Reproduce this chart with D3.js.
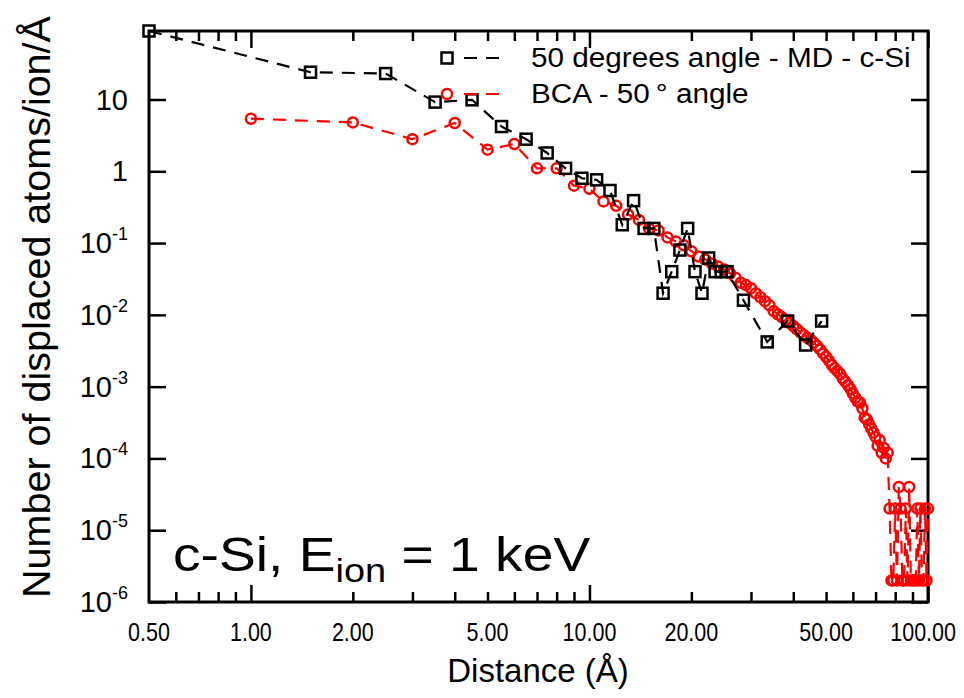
<!DOCTYPE html>
<html>
<head>
<meta charset="utf-8">
<script src="https://cdn.jsdelivr.net/npm/d3@7"></script>
<style>
body { margin: 0; background: #fff; }
text { font-family: "Liberation Sans", Arial, sans-serif; fill: #000; }
</style>
</head>
<body>
<svg id="chart" width="964" height="698"></svg>
<script>
// MD run, 1 A bins (centres at n + 0.5)
const mdDist = [0.5, 1.5, 2.5, 3.5, 4.5, 5.5, 6.5, 7.5, 8.5, 9.5, 10.5, 11.5, 12.5, 13.5, 14.5, 15.5,
  16.5, 17.5, 18.5, 19.5, 20.5, 21.5, 22.5, 23.5, 24.5, 25.5, 28.5, 33.5, 38.5, 43.5, 48.5];
const mdVals = [90, 24, 23, 9.2, 9.9, 4.2, 2.8, 1.8, 1.1, 0.8, 0.76, 0.54, 0.18, 0.39, 0.16, 0.16,
  0.02, 0.04, 0.08, 0.16, 0.04, 0.02, 0.062, 0.04, 0.04, 0.04, 0.016, 0.0042, 0.0082, 0.0038, 0.0082];

// BCA run, distances 1..100 A
const bcaDist = d3.range(1, 101);
const bcaVals = [5.4, 4.8, 2.8, 4.7, 2.0, 2.4, 1.1, 1.1, 0.63, 0.57,
  0.38, 0.33, 0.25, 0.21, 0.16, 0.15, 0.12, 0.105, 0.093, 0.077,
  0.065, 0.059, 0.052, 0.047, 0.043, 0.038, 0.033, 0.028, 0.026, 0.0235,
  0.020, 0.0176, 0.0155, 0.0136, 0.0113, 0.0102, 0.0093, 0.0085, 0.0077, 0.0070,
  0.0063, 0.0057, 0.0052, 0.0048, 0.0045, 0.0041, 0.0037, 0.0033, 0.0029, 0.0026,
  0.0023, 0.0020, 0.0018, 0.00165, 0.0015, 0.0013, 0.00117, 0.00105, 0.00093, 0.0008,
  0.0007, 0.00062, 0.0006, 0.0005, 0.00037, 0.00035, 0.0003, 0.00026, 0.00023, 0.0002,
  0.00015, 0.00018, 0.00012, 0.00014, 0.0001, 0.00012, 2e-5, 2e-6, 2e-6, 2e-5,
  2e-6, 4e-5, 2e-5, 2e-6, 2e-6, 2e-5, 2e-6, 4e-5, 2e-6, 2e-6,
  2e-6, 2e-6, 2e-5, 2e-6, 2e-5, 2e-6, 2e-6, 2e-5, 2e-6, 2e-5];

const xTickVals = [0.5, 1, 2, 5, 10, 20, 50, 100];
const xTickLabels = ["0.50", "1.00", "2.00", "5.00", "10.00", "20.00", "50.00", "100.00"];
const xMajor = [1, 10, 100];
const xMinor = [0.6, 0.7, 0.8, 0.9, 2, 3, 4, 5, 6, 7, 8, 9, 20, 30, 40, 50, 60, 70, 80, 90];
const yTickExp = [1, 0, -1, -2, -3, -4, -5, -6];

const seriesNames = ["50 degrees angle - MD - c-Si", "BCA - 50\u2009\u00b0 angle"];

const svg = d3.select("#chart");
const mLeft = 149, mRight = 928, mTop = 31, mBottom = 602;

const x = d3.scaleLog().domain([0.5, 100]).range([mLeft, mRight]);
const y = d3.scaleLog().domain([1e-6, 90]).range([mBottom, mTop]);

// stretch a text horizontally by factor k (gnuplot fonts come out wider)
function stretch(sel, k) {
  sel.each(function () {
    const w = this.getComputedTextLength();
    d3.select(this).attr("textLength", w * k).attr("lengthAdjust", "spacingAndGlyphs");
  });
}

// ---- axes (ticks inward, mirrored on top/right)
function styleAxis(g) {
  g.select(".domain").remove();
  g.selectAll("line").attr("stroke", "#000").attr("stroke-width", 2.5);
}
svg.append("g").attr("transform", `translate(0,${mBottom})`)
  .call(d3.axisBottom(x).tickValues(xMajor).tickSize(-17).tickFormat(""))
  .call(styleAxis);
svg.append("g").attr("transform", `translate(0,${mBottom})`)
  .call(d3.axisBottom(x).tickValues(xMinor).tickSize(-10).tickFormat(""))
  .call(styleAxis);
svg.append("g").attr("transform", `translate(0,${mTop})`)
  .call(d3.axisTop(x).tickValues(xMajor).tickSize(-17).tickFormat(""))
  .call(styleAxis);
svg.append("g").attr("transform", `translate(0,${mTop})`)
  .call(d3.axisTop(x).tickValues(xMinor).tickSize(-10).tickFormat(""))
  .call(styleAxis);
const yTickVals = yTickExp.map(e => Math.pow(10, e));
svg.append("g").attr("transform", `translate(${mLeft},0)`)
  .call(d3.axisLeft(y).tickValues(yTickVals).tickSize(-17).tickFormat(""))
  .call(styleAxis);
svg.append("g").attr("transform", `translate(${mRight},0)`)
  .call(d3.axisRight(y).tickValues(yTickVals).tickSize(-17).tickFormat(""))
  .call(styleAxis);

// frame
svg.append("rect").attr("x", mLeft).attr("y", mTop)
  .attr("width", mRight - mLeft).attr("height", mBottom - mTop)
  .attr("fill", "none").attr("stroke", "#000").attr("stroke-width", 3);

// x tick labels (condensed); last one right-aligned so it stays inside the page
const lastTick = xTickVals.length - 1;
svg.append("g").selectAll("text").data(xTickVals).join("text")
  .attr("x", (d, i) => i === lastTick ? 956 : x(d)).attr("y", 641)
  .attr("text-anchor", (d, i) => i === lastTick ? "end" : "middle")
  .attr("font-size", 25)
  .text((d, i) => xTickLabels[i])
  .call(stretch, 0.86);

// y tick labels
const yl = svg.append("g").selectAll("text").data(yTickExp).join("text")
  .attr("x", 128).attr("y", d => y(Math.pow(10, d)) + 10)
  .attr("text-anchor", "end").attr("font-size", 29);
yl.each(function (d) {
  const t = d3.select(this);
  if (d === 1) t.text("10");
  else if (d === 0) t.text("1");
  else {
    t.append("tspan").text("10");
    t.append("tspan").attr("font-size", 18).attr("dy", -13).text(String(d));
  }
});

// axis titles
svg.append("text").attr("x", 538).attr("y", 682).attr("text-anchor", "middle")
  .attr("font-size", 33).text("Distance (\u00c5)");
svg.append("text").attr("transform", "translate(50,307) rotate(-90)")
  .attr("text-anchor", "middle").attr("font-size", 39.5)
  .text("Number of displaced atoms/ion/\u00c5");

// annotation
const ann = svg.append("g").attr("transform", "translate(173,571) scale(1.15,1)")
  .append("text").attr("font-size", 48);
ann.append("tspan").text("c-Si, E");
ann.append("tspan").attr("font-size", 33).attr("dy", 11).text("ion");
ann.append("tspan").attr("dy", -11).text(" = 1 keV");

// ---- series
const line = d3.line().x(d => x(d[0])).y(d => y(d[1]));
const bcaPts = bcaDist.map((d, i) => [d, bcaVals[i]]);
const mdPts = mdDist.map((d, i) => [d, mdVals[i]]);

svg.append("path").datum(bcaPts).attr("d", line)
  .attr("fill", "none").attr("stroke", "#f00").attr("stroke-width", 2.2)
  .attr("stroke-dasharray", "13,9");
svg.append("g").selectAll("circle").data(bcaPts).join("circle")
  .attr("cx", d => x(d[0])).attr("cy", d => y(d[1])).attr("r", 5)
  .attr("fill", "none").attr("stroke", "#f00").attr("stroke-width", 2.5);

svg.append("path").datum(mdPts).attr("d", line)
  .attr("fill", "none").attr("stroke", "#000").attr("stroke-width", 2.2)
  .attr("stroke-dasharray", "13,9");
svg.append("g").selectAll("rect").data(mdPts).join("rect")
  .attr("x", d => x(d[0]) - 5.5).attr("y", d => y(d[1]) - 5.5)
  .attr("width", 11).attr("height", 11)
  .attr("fill", "none").attr("stroke", "#000").attr("stroke-width", 2.5);

// ---- legend
const lg = svg.append("g");
lg.append("rect").attr("x", 441.5).attr("y", 52.5).attr("width", 11).attr("height", 11)
  .attr("fill", "none").attr("stroke", "#000").attr("stroke-width", 2.5);
lg.append("line").attr("x1", 464).attr("x2", 507).attr("y1", 58).attr("y2", 58)
  .attr("stroke", "#000").attr("stroke-width", 2.2).attr("stroke-dasharray", "13,9");
lg.append("circle").attr("cx", 447).attr("cy", 94).attr("r", 5)
  .attr("fill", "none").attr("stroke", "#f00").attr("stroke-width", 2.5);
lg.append("line").attr("x1", 464).attr("x2", 507).attr("y1", 94).attr("y2", 94)
  .attr("stroke", "#f00").attr("stroke-width", 2.2).attr("stroke-dasharray", "13,9");
lg.selectAll("text").data(seriesNames).join("text")
  .attr("x", 531).attr("y", (d, i) => 67 + i * 36)
  .attr("font-size", 27).text(d => d)
  .call(stretch, 1.1);
</script>
</body>
</html>
